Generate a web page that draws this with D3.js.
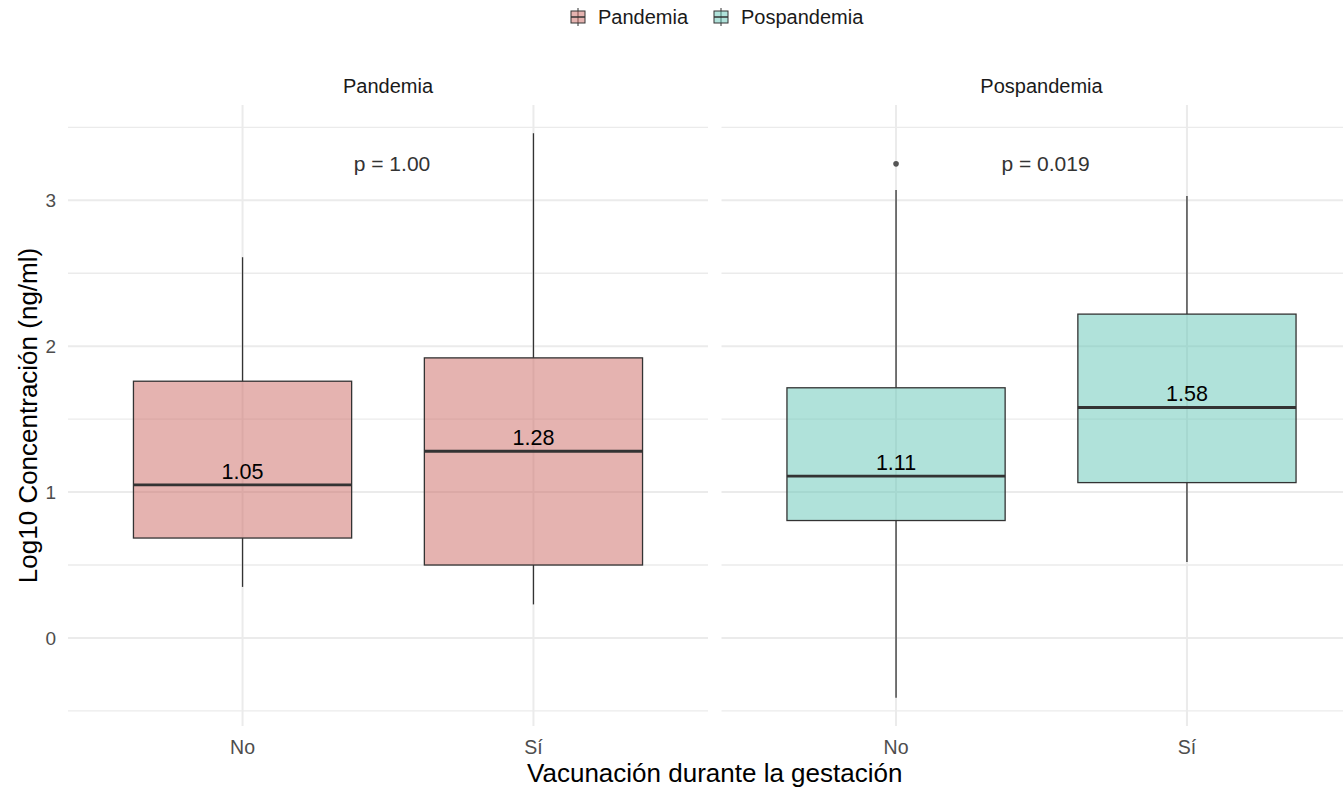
<!DOCTYPE html>
<html>
<head>
<meta charset="utf-8">
<script src="https://cdn.jsdelivr.net/npm/d3@7"></script>
<style>
  html, body { margin: 0; padding: 0; background: #fff; }
  svg { display: block; font-family: "Liberation Sans", Arial, Helvetica, sans-serif; }
</style>
</head>
<body>
<svg id="chart" width="1343" height="789"></svg>
<script>
// Log10 concentration by vaccination status, faceted by period
const periods = ["Pandemia", "Pospandemia"];
const groups = ["No", "Sí"];
// box statistics per period, in the order of `groups`
const whiskerLow  = { "Pandemia": [0.35, 0.23],  "Pospandemia": [-0.41, 0.52] };
const q1          = { "Pandemia": [0.685, 0.50], "Pospandemia": [0.805, 1.065] };
const medians     = { "Pandemia": [1.05, 1.28],  "Pospandemia": [1.11, 1.58] };
const q3          = { "Pandemia": [1.76, 1.92],  "Pospandemia": [1.715, 2.22] };
const whiskerHigh = { "Pandemia": [2.61, 3.46],  "Pospandemia": [3.07, 3.03] };
const outliers    = { "Pandemia": [[], []],      "Pospandemia": [[3.25], []] };
const pValues     = { "Pandemia": "p = 1.00",    "Pospandemia": "p = 0.019" };
const pLabelY = 3.25;
const yTicks = [0, 1, 2, 3];
const yMinor = [-0.5, 0.5, 1.5, 2.5, 3.5];

const fills = { "Pandemia": "#CB6761", "Pospandemia": "#61C5B5" };

const svg = d3.select("#chart");
const panelTop = 105, panelBottom = 726;
const panelLeft = 68, panelW = 640, panelGap = 13.5;

// shared y scale with 5% expansion of the data range
const allVals = [];
periods.forEach(p => {
  allVals.push(...whiskerLow[p], ...whiskerHigh[p]);
  outliers[p].forEach(o => allVals.push(...o));
});
const [lo, hi] = d3.extent(allVals);
const pad = (hi - lo) * 0.05;
const y = d3.scaleLinear().domain([lo - pad, hi + pad]).range([panelBottom, panelTop]);

// legend
const legend = svg.append("g").attr("transform", "translate(0,17)");
const legendItems = [{ p: "Pandemia", x: 570 }, { p: "Pospandemia", x: 713 }];
legendItems.forEach(it => {
  const g = legend.append("g").attr("transform", `translate(${it.x},0)`);
  g.append("line").attr("x1", 8).attr("x2", 8).attr("y1", -9).attr("y2", 9)
    .attr("stroke", "#333").attr("stroke-width", 1);
  g.append("rect").attr("x", 1).attr("y", -6).attr("width", 14).attr("height", 12)
    .attr("fill", fills[it.p]).attr("fill-opacity", 0.5)
    .attr("stroke", "#333").attr("stroke-width", 1);
  g.append("line").attr("x1", 1).attr("x2", 15).attr("y1", 0).attr("y2", 0)
    .attr("stroke", "#333").attr("stroke-width", 1.5);
  g.append("text").attr("x", 28).attr("y", 0).attr("dy", "0.35em")
    .attr("font-size", 20).attr("fill", "#1a1a1a").text(it.p);
});

// y tick labels
svg.append("g").selectAll("text").data(yTicks).join("text")
  .attr("x", 56).attr("y", d => y(d)).attr("dy", "0.35em")
  .attr("text-anchor", "end").attr("font-size", 19).attr("fill", "#4d4d4d")
  .text(d => d);

periods.forEach((p, i) => {
  const x0 = panelLeft + i * (panelW + panelGap);
  const x = d3.scalePoint().domain(groups).range([x0, x0 + panelW]).padding(0.6);
  const step = x.step();
  const boxW = step * 0.75;
  const g = svg.append("g");

  // grid
  g.selectAll(".minor").data(yMinor).join("line")
    .attr("x1", x0).attr("x2", x0 + panelW)
    .attr("y1", d => y(d)).attr("y2", d => y(d))
    .attr("stroke", "#ebebeb").attr("stroke-width", 1.4);
  g.selectAll(".major").data(yTicks).join("line")
    .attr("x1", x0).attr("x2", x0 + panelW)
    .attr("y1", d => y(d)).attr("y2", d => y(d))
    .attr("stroke", "#ebebeb").attr("stroke-width", 2);
  g.selectAll(".vgrid").data(groups).join("line")
    .attr("x1", d => x(d)).attr("x2", d => x(d))
    .attr("y1", panelTop).attr("y2", panelBottom)
    .attr("stroke", "#ebebeb").attr("stroke-width", 2);

  // strip title
  svg.append("text").attr("x", x0 + panelW / 2).attr("y", 86).attr("dy", "0.35em")
    .attr("text-anchor", "middle").attr("font-size", 20).attr("fill", "#1a1a1a").text(p);

  // x tick labels
  g.selectAll(".xt").data(groups).join("text")
    .attr("x", d => x(d)).attr("y", 747).attr("dy", "0.35em")
    .attr("text-anchor", "middle").attr("font-size", 19.5).attr("fill", "#4d4d4d")
    .text(d => d);

  groups.forEach((grp, j) => {
    const cx = x(grp);
    // whiskers
    g.append("line").attr("x1", cx).attr("x2", cx)
      .attr("y1", y(q3[p][j])).attr("y2", y(whiskerHigh[p][j]))
      .attr("stroke", "#333").attr("stroke-width", 1.3);
    g.append("line").attr("x1", cx).attr("x2", cx)
      .attr("y1", y(q1[p][j])).attr("y2", y(whiskerLow[p][j]))
      .attr("stroke", "#333").attr("stroke-width", 1.3);
    // box
    g.append("rect").attr("x", cx - boxW / 2).attr("width", boxW)
      .attr("y", y(q3[p][j])).attr("height", y(q1[p][j]) - y(q3[p][j]))
      .attr("fill", fills[p]).attr("fill-opacity", 0.5)
      .attr("stroke", "#333").attr("stroke-width", 1.3);
    // median
    g.append("line").attr("x1", cx - boxW / 2).attr("x2", cx + boxW / 2)
      .attr("y1", y(medians[p][j])).attr("y2", y(medians[p][j]))
      .attr("stroke", "#333").attr("stroke-width", 2.8);
    // outliers
    g.selectAll(null).data(outliers[p][j]).join("circle")
      .attr("cx", cx).attr("cy", d => y(d)).attr("r", 2.8).attr("fill", "#555");
    // median label
    g.append("text").attr("x", cx).attr("y", y(medians[p][j]) - 6)
      .attr("text-anchor", "middle").attr("font-size", 21.5).attr("fill", "#000")
      .text(d3.format(".2f")(medians[p][j]));
  });

  // p-value
  g.append("text").attr("x", x0 + panelW / 2 + 4).attr("y", y(pLabelY)).attr("dy", "0.35em")
    .attr("text-anchor", "middle").attr("font-size", 21).attr("fill", "#333")
    .text(pValues[p]);
});

// axis titles
svg.append("text")
  .attr("transform", `translate(28,${(panelTop + panelBottom) / 2}) rotate(-90)`)
  .attr("dy", "0.35em").attr("text-anchor", "middle")
  .attr("font-size", 26).attr("fill", "#000").text("Log10 Concentración (ng/ml)");
svg.append("text")
  .attr("x", panelLeft + (2 * panelW + panelGap) / 2).attr("y", 773).attr("dy", "0.35em")
  .attr("text-anchor", "middle").attr("font-size", 26).attr("fill", "#000")
  .text("Vacunación durante la gestación");
</script>
</body>
</html>
